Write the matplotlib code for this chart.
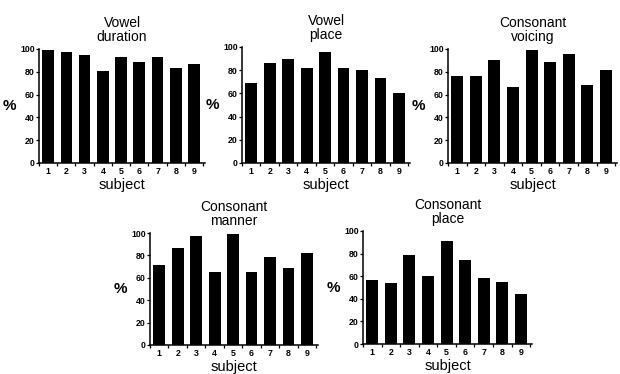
import numpy as np
import matplotlib.pyplot as plt

plt.rcParams['font.family'] = ['Liberation Sans', 'DejaVu Sans']

subjects = [1, 2, 3, 4, 5, 6, 7, 8, 9]
yticks = [0, 20, 40, 60, 80, 100]

titles = ["Vowel\nduration", "Vowel\nplace", "Consonant\nvoicing",
          "Consonant\nmanner", "Consonant\nplace"]

vowel_duration = [99, 97, 95, 81, 93, 89, 93, 83, 87]
vowel_place = [69, 86, 90, 82, 96, 82, 80, 73, 60]
consonant_voicing = [76, 76, 90, 67, 99, 89, 96, 68, 82]
consonant_manner = [71, 87, 97, 65, 99, 65, 79, 69, 82]
consonant_place = [57, 54, 79, 60, 91, 74, 58, 55, 44]

series = [vowel_duration, vowel_place, consonant_voicing,
          consonant_manner, consonant_place]

W, H = 620, 374
# axes boxes in pixels: left, right, top, bottom
boxes = [(39, 205, 49, 163), (242, 410, 47, 163), (448, 617, 49, 163),
         (150, 318, 233, 345), (363, 532, 231, 344)]

fig = plt.figure(figsize=(W / 100, H / 100), dpi=100)

for (l, r, t, b), title, vals in zip(boxes, titles, series):
    ax = fig.add_axes([l / W, (H - b) / H, (r - l) / W, (b - t) / H])
    ax.bar(subjects, vals, width=0.64, color='black')
    ax.set_xlim(0.58, 9.6)
    ax.set_ylim(0, 100)
    ax.set_yticks(yticks)
    ax.set_xticks(subjects)
    ax.set_xticks(np.arange(0.5, 10, 1), minor=True)
    ax.tick_params(axis='both', labelsize=6.3, length=2, width=0.9, pad=1)
    ax.tick_params(axis='x', which='major', length=0, pad=3)
    ax.tick_params(axis='x', which='minor', length=2, width=0.9)
    for lab in ax.get_xticklabels() + ax.get_yticklabels():
        lab.set_fontweight('bold')
    for side in ['top', 'right']:
        ax.spines[side].set_visible(False)
    for side in ['left', 'bottom']:
        ax.spines[side].set_linewidth(1.1)
    ax.set_title(title, fontsize=10, pad=6, linespacing=1.0)
    ax.set_xlabel('subject', fontsize=10.5, labelpad=1)
    ax.set_ylabel('%', fontsize=11, fontweight='bold', rotation=0,
                  labelpad=8, va='center')

fig.savefig('out.png', dpi=100)
